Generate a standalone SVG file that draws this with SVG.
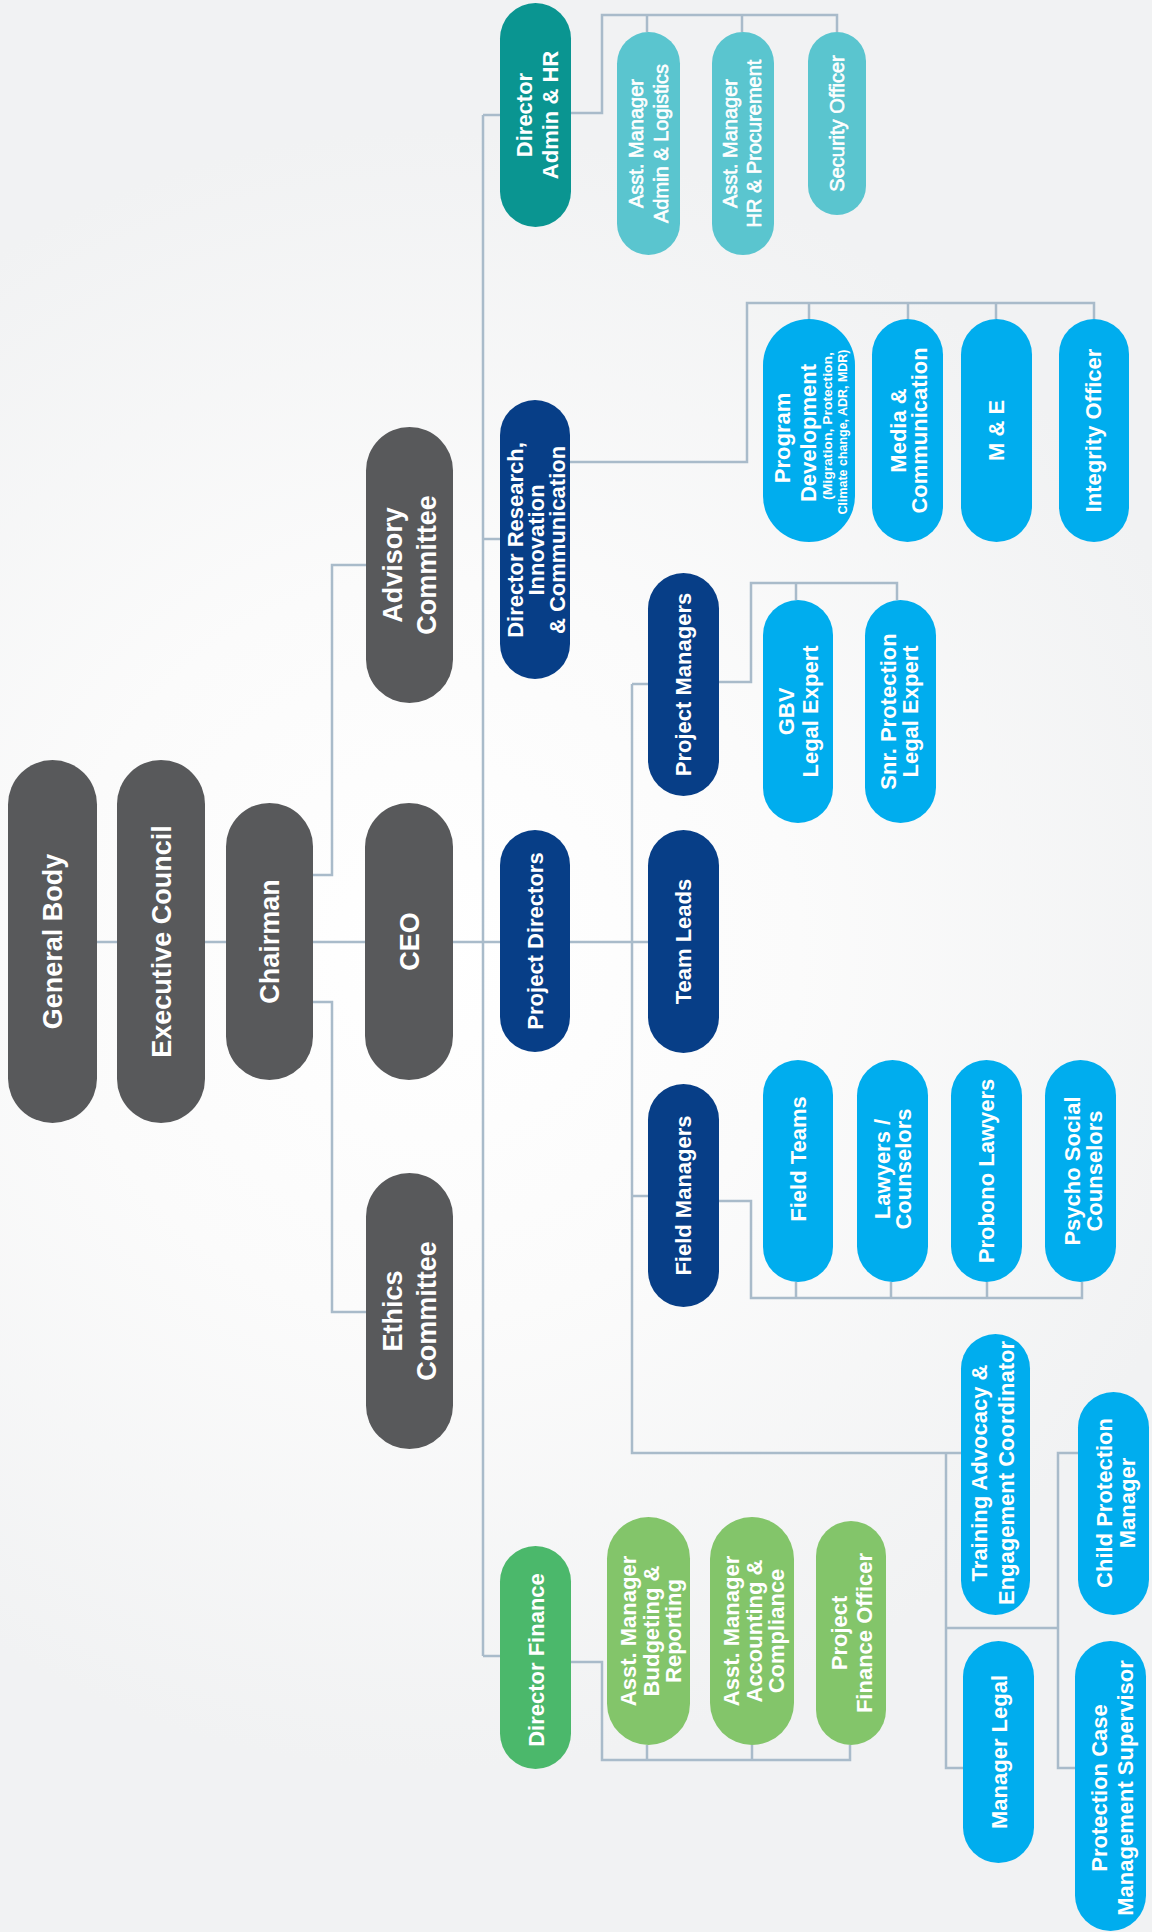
<svg xmlns="http://www.w3.org/2000/svg" width="1152" height="1932" viewBox="0 0 1152 1932">
<defs>
<radialGradient id="bg" cx="430" cy="950" r="820" gradientUnits="userSpaceOnUse">
<stop offset="0" stop-color="#ffffff"/>
<stop offset="0.45" stop-color="#fbfbfb"/>
<stop offset="1" stop-color="#f1f2f3"/>
</radialGradient>
<style>
.n{stroke:none}
.dk{fill:#58595b}
.nv{fill:#073e87}
.tl{fill:#0a9591}
.lt{fill:#5ac5cf}
.bl{fill:#00adee}
.gr{fill:#4bb86b}
.lg{fill:#83c56a}
text{font-family:"Liberation Sans",Arial,sans-serif;font-weight:bold;fill:#ffffff;text-anchor:middle}
.f27{font-size:27px}
.f22{font-size:22px}
.f20r{font-size:20px;font-weight:normal;stroke:#ffffff;stroke-width:0.6}
.f12{font-size:12.5px}
#connectors path{fill:none;stroke:#a9bbca;stroke-width:2.5}
</style>
</defs>
<rect width="1152" height="1932" fill="url(#bg)"/>

<g id="connectors">
<path d="M97,942 H117"/>
<path d="M205,942 H226"/>
<path d="M313,942 H365"/>
<path d="M313,875 H332 V565 H366"/>
<path d="M313,1002 H332 V1312 H366"/>
<path d="M453,942 H500"/>
<path d="M483,115 V1656"/>
<path d="M483,115 H500"/>
<path d="M483,539 H500"/>
<path d="M483,1656 H500"/>
<path d="M571,113 H602 V15 H837 V32"/>
<path d="M647,15 V32"/>
<path d="M742,15 V32"/>
<path d="M570,462 H747 V303 H1094 V319"/>
<path d="M809,303 V319"/>
<path d="M908,303 V319"/>
<path d="M996,303 V319"/>
<path d="M570,942 H648"/>
<path d="M632,684 V1453 H961"/>
<path d="M632,684 H648"/>
<path d="M632,1196 H648"/>
<path d="M719,682 H751 V583 H897 V600"/>
<path d="M796,583 V600"/>
<path d="M719,1201 H751 V1298 H1082 V1282"/>
<path d="M796,1298 V1282"/>
<path d="M891,1298 V1282"/>
<path d="M987,1298 V1282"/>
<path d="M571,1662 H602 V1760 H850 V1745"/>
<path d="M647,1760 V1745"/>
<path d="M752,1760 V1745"/>
<path d="M946,1453 V1768 H963"/>
<path d="M946,1628 H1058"/>
<path d="M1078,1453 H1058 V1768 H1075"/>
</g>

<g id="general-body"><rect class="n dk" x="8" y="760" width="89" height="363" rx="44.5"/><text class="f27" transform="translate(52.5,941.5) rotate(-90)" y="9.5">General Body</text></g>
<g id="executive-council"><rect class="n dk" x="117" y="760" width="88" height="363" rx="44"/><text class="f27" transform="translate(161,941.5) rotate(-90)" y="9.5">Executive Council</text></g>
<g id="chairman"><rect class="n dk" x="226" y="803" width="87" height="277" rx="43.5"/><text class="f27" transform="translate(269.5,941.5) rotate(-90)" y="9.5">Chairman</text></g>
<g id="ceo"><rect class="n dk" x="365" y="803" width="88" height="277" rx="44"/><text class="f27" transform="translate(409,941.5) rotate(-90)" y="9.5">CEO</text></g>
<g id="advisory-committee"><rect class="n dk" x="366" y="427" width="87" height="276" rx="43.5"/><text class="f27" transform="translate(409.5,565) rotate(-90)"><tspan x="0" y="-7.5">Advisory</tspan><tspan x="0" y="26.5">Committee</tspan></text></g>
<g id="ethics-committee"><rect class="n dk" x="366" y="1173" width="87" height="276" rx="43.5"/><text class="f27" transform="translate(409.5,1311) rotate(-90)"><tspan x="0" y="-7.5">Ethics</tspan><tspan x="0" y="26.5">Committee</tspan></text></g>

<g id="director-admin-hr"><rect class="n tl" x="500" y="3" width="71" height="224" rx="35.5"/><text class="f22" transform="translate(537,115) rotate(-90)"><tspan x="0" y="-5.3">Director</tspan><tspan x="0" y="20.7">Admin &amp; HR</tspan></text></g>
<g id="asst-manager-admin-logistics"><rect class="n lt" x="617" y="32" width="63" height="223" rx="31.5"/><text class="f20r" transform="translate(648.5,143.5) rotate(-90)"><tspan x="0" y="-5.5">Asst. Manager</tspan><tspan x="0" y="19.5">Admin &amp; Logistics</tspan></text></g>
<g id="asst-manager-hr-procurement"><rect class="n lt" x="712" y="32" width="62" height="223" rx="31"/><text class="f20r" transform="translate(742,143.5) rotate(-90)"><tspan x="0" y="-5">Asst. Manager</tspan><tspan x="0" y="19">HR &amp; Procurement</tspan></text></g>
<g id="security-officer"><rect class="n lt" x="808" y="32" width="58" height="183" rx="29"/><text class="f20r" transform="translate(837,123.5) rotate(-90)" y="7">Security Officer</text></g>

<g id="director-research"><rect class="n nv" x="500" y="400" width="70" height="279" rx="35"/><text class="f22" transform="translate(536,540) rotate(-90)"><tspan x="0" y="-13.3">Director Research,</tspan><tspan x="0" y="7.7">Innovation</tspan><tspan x="0" y="28.7">&amp; Communication</tspan></text></g>
<g id="program-development"><rect class="n bl" x="763" y="319" width="92" height="223" rx="46"/><text transform="translate(809,437) rotate(-90)"><tspan class="f22" x="-1" y="-19.3">Program</tspan><tspan class="f22" x="4" y="6.7">Development</tspan><tspan class="f12" x="11" y="23.4" textLength="148" lengthAdjust="spacingAndGlyphs">(Migration, Protection,</tspan><tspan class="f12" x="5" y="38.4" textLength="165" lengthAdjust="spacingAndGlyphs">Climate change, ADR, MDR)</tspan></text></g>
<g id="media-communication"><rect class="n bl" x="872" y="319" width="71" height="223" rx="35.5"/><text class="f22" transform="translate(908.5,430.5) rotate(-90)"><tspan x="0" y="-2.8">Media &amp;</tspan><tspan x="0" y="18.2">Communication</tspan></text></g>
<g id="m-and-e"><rect class="n bl" x="961" y="319" width="71" height="223" rx="35.5"/><text class="f22" transform="translate(996.5,430.5) rotate(-90)" y="7.7">M &amp; E</text></g>
<g id="integrity-officer"><rect class="n bl" x="1059" y="319" width="70" height="223" rx="35"/><text class="f22" transform="translate(1093,430.5) rotate(-90)" y="7.7">Integrity Officer</text></g>

<g id="project-directors"><rect class="n nv" x="500" y="830" width="70" height="222" rx="35"/><text class="f22" transform="translate(535,941) rotate(-90)" y="7.7">Project Directors</text></g>
<g id="project-managers"><rect class="n nv" x="648" y="573" width="71" height="223" rx="35.5"/><text class="f22" transform="translate(683.5,684.5) rotate(-90)" y="7.7">Project Managers</text></g>
<g id="team-leads"><rect class="n nv" x="648" y="830" width="71" height="223" rx="35.5"/><text class="f22" transform="translate(683.5,941.5) rotate(-90)" y="7.7">Team Leads</text></g>
<g id="field-managers"><rect class="n nv" x="648" y="1084" width="71" height="223" rx="35.5"/><text class="f22" transform="translate(683.5,1195.5) rotate(-90)" y="7.7">Field Managers</text></g>

<g id="gbv-legal-expert"><rect class="n bl" x="763" y="600" width="70" height="223" rx="35"/><text class="f22" transform="translate(798,711.5) rotate(-90)"><tspan x="0" y="-4.3">GBV</tspan><tspan x="0" y="19.7">Legal Expert</tspan></text></g>
<g id="snr-protection-legal-expert"><rect class="n bl" x="865" y="600" width="71" height="223" rx="35.5"/><text class="f22" transform="translate(899.5,711.5) rotate(-90)"><tspan x="0" y="-3.3">Snr. Protection</tspan><tspan x="0" y="18.7">Legal Expert</tspan></text></g>

<g id="field-teams"><rect class="n bl" x="763" y="1060" width="70" height="222" rx="35"/><text class="f22" transform="translate(798,1159) rotate(-90)" y="7.7">Field Teams</text></g>
<g id="lawyers-counselors"><rect class="n bl" x="857" y="1060" width="71" height="222" rx="35.5"/><text class="f22" transform="translate(892.5,1169) rotate(-90)"><tspan x="0" y="-2.8">Lawyers /</tspan><tspan x="0" y="18.2">Counselors</tspan></text></g>
<g id="probono-lawyers"><rect class="n bl" x="951" y="1060" width="71" height="222" rx="35.5"/><text class="f22" transform="translate(986,1171) rotate(-90)" y="7.7">Probono Lawyers</text></g>
<g id="psycho-social-counselors"><rect class="n bl" x="1045" y="1060" width="71" height="222" rx="35.5"/><text class="f22" transform="translate(1083,1171) rotate(-90)"><tspan x="0" y="-3.3">Psycho Social</tspan><tspan x="0" y="18.7">Counselors</tspan></text></g>

<g id="training-advocacy"><rect class="n bl" x="961" y="1334" width="69" height="281" rx="34.5"/><text class="f22" transform="translate(992.5,1473) rotate(-90)"><tspan x="0" y="-5.8">Training Advocacy &amp;</tspan><tspan x="0" y="21.2">Engagement Coordinator</tspan></text></g>
<g id="child-protection-manager"><rect class="n bl" x="1078" y="1392" width="71" height="223" rx="35.5"/><text class="f22" transform="translate(1115.5,1503) rotate(-90)"><tspan x="0" y="-3.8">Child Protection</tspan><tspan x="0" y="19.2">Manager</tspan></text></g>
<g id="manager-legal"><rect class="n bl" x="963" y="1641" width="71" height="222" rx="35.5"/><text class="f22" transform="translate(999,1752) rotate(-90)" y="7.7">Manager Legal</text></g>
<g id="protection-case-supervisor"><rect class="n bl" x="1075" y="1641" width="71" height="290" rx="35.5"/><text class="f22" transform="translate(1112,1788) rotate(-90)"><tspan x="0" y="-5.3">Protection Case</tspan><tspan x="0" y="20.7">Management Supervisor</tspan></text></g>

<g id="director-finance"><rect class="n gr" x="500" y="1546" width="71" height="223" rx="35.5"/><text class="f22" transform="translate(536,1660) rotate(-90)" y="7.7">Director Finance</text></g>
<g id="asst-manager-budgeting"><rect class="n lg" x="607" y="1517" width="83" height="228" rx="41.5"/><text class="f22" transform="translate(651,1631) rotate(-90)"><tspan x="0" y="-15.3">Asst. Manager</tspan><tspan x="0" y="7.7">Budgeting &amp;</tspan><tspan x="0" y="29.7">Reporting</tspan></text></g>
<g id="asst-manager-accounting"><rect class="n lg" x="710" y="1517" width="84" height="228" rx="42"/><text class="f22" transform="translate(753.5,1631) rotate(-90)"><tspan x="0" y="-14.8">Asst. Manager</tspan><tspan x="0" y="8.2">Accounting &amp;</tspan><tspan x="0" y="30.2">Compliance</tspan></text></g>
<g id="project-finance-officer"><rect class="n lg" x="816" y="1521" width="70" height="224" rx="35"/><text class="f22" transform="translate(851.5,1633) rotate(-90)"><tspan x="0" y="-4.8">Project</tspan><tspan x="0" y="20.2">Finance Officer</tspan></text></g>
</svg>
